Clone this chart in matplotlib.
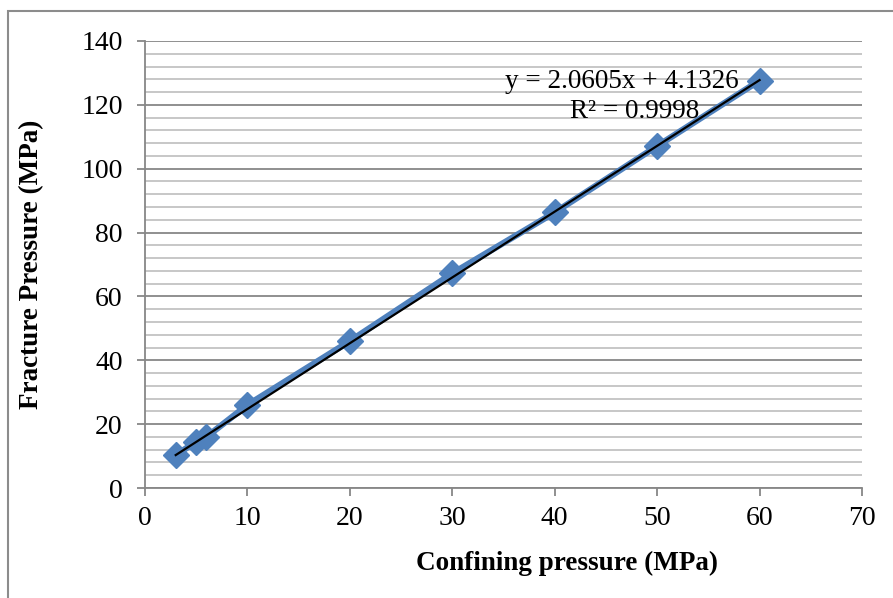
import numpy as np
import matplotlib.pyplot as plt
from matplotlib.patches import Rectangle
from matplotlib.ticker import MultipleLocator

plt.rcParams['font.family'] = 'serif'
plt.rcParams['font.serif'] = ['Liberation Serif', 'DejaVu Serif']

# --- données ---
confining = [3, 5, 6, 10, 20, 30, 40, 50, 60]
fracture = [10.3, 14.5, 16.0, 26.0, 46.0, 67.2, 86.3, 107.1, 127.6]
slope = 2.0605
intercept = 4.1326
r2 = 0.9998

fig = plt.figure(figsize=(8.93, 5.98), dpi=100)
W, H = 893, 598
ax = fig.add_axes([145 / W, 1 - 488 / H, (862 - 145) / W, (488 - 41) / H])

# cadre extérieur du graphique (style Excel)
fig.patches.append(Rectangle((8 / W, -0.1), 1.2, 1 - 11 / H + 0.1,
                             transform=fig.transFigure, fill=False,
                             edgecolor='#8c8c8c', linewidth=1.5))

ax.set_xlim(0, 70)
ax.set_ylim(0, 140)
ax.xaxis.set_major_locator(MultipleLocator(10))
ax.yaxis.set_major_locator(MultipleLocator(20))
ax.yaxis.set_minor_locator(MultipleLocator(4))

ax.grid(True, which='major', axis='y', color='#878787', linewidth=1.3)
ax.grid(True, which='minor', axis='y', color='#b8b8b8', linewidth=1.1)
ax.set_axisbelow(True)
ax.tick_params(which='minor', left=False)

for s in ['top', 'right']:
    ax.spines[s].set_visible(False)
for s in ['left', 'bottom']:
    ax.spines[s].set_color('#878787')
    ax.spines[s].set_linewidth(1.3)
ax.tick_params(which='major', length=6, width=1.3, color='#878787',
               labelsize=20)
ax.tick_params(axis='y', pad=10)
ax.tick_params(axis='x', pad=7)

ax.plot(confining, fracture, color='#4F81BD', linewidth=4.5, marker='D',
        markersize=13, markerfacecolor='#4F81BD', markeredgecolor='#4F81BD',
        zorder=3)

xt = np.array([min(confining), max(confining)])
ax.plot(xt, slope * xt + intercept, color='black', linewidth=1.6, zorder=4)

ax.text(46.6, 125.3, f'y = {slope}x + {intercept}', ha='center',
        va='baseline', fontsize=19.5)
ax.text(47.8, 115.9, f'R² = {r2}', ha='center', va='baseline', fontsize=19.5)

ax.set_xlabel('Confining pressure (MPa)', fontsize=19.5, fontweight='bold',
              va='center')
ax.xaxis.set_label_coords((567 - 145) / 717, (488 - 563) / 447)
ax.set_ylabel('Fracture Pressure (MPa)', fontsize=19.5, fontweight='bold',
              va='center')
ax.yaxis.set_label_coords((32 - 145) / 717, 0.5)

fig.savefig('out.png', dpi=100)
